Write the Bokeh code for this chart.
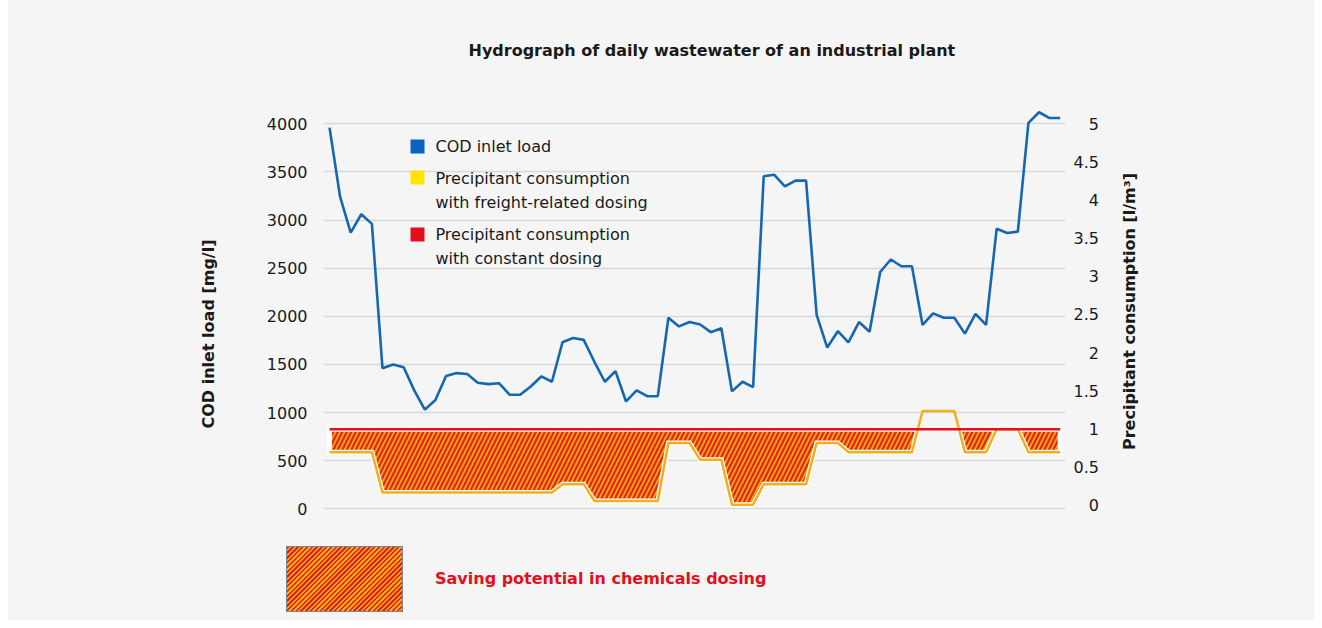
import math
from bokeh.plotting import figure
from bokeh.models import (Range1d, LinearAxis, FixedTicker, Label, BoxAnnotation, Spacer,
                          Title, Div)
from bokeh.layouts import row, column
from bokeh.embed import file_html
from bokeh.resources import INLINE

# ---------------- data ----------------
days = list(range(1, 71))
cod_inlet_load = [3960, 3240, 2870, 3060, 2960, 1460, 1500, 1470, 1230, 1030,
                  1130, 1380, 1410, 1400, 1310, 1295, 1305, 1185, 1185, 1270,
                  1375, 1320, 1730, 1775, 1755, 1530, 1320, 1430, 1115, 1230,
                  1170, 1170, 1985, 1895, 1940, 1915, 1835, 1875, 1220, 1320,
                  1265, 3455, 3470, 3350, 3410, 3410, 2015, 1675, 1845, 1730,
                  1940, 1840, 2460, 2590, 2520, 2520, 1910, 2030, 1985, 1985,
                  1820, 2025, 1910, 2910, 2865, 2880, 4010, 4120, 4060, 4060]
freight_dosing = [0.70, 0.70, 0.70, 0.70, 0.70, 0.17, 0.17, 0.17, 0.17, 0.17,
                  0.17, 0.17, 0.17, 0.17, 0.17, 0.17, 0.17, 0.17, 0.17, 0.17,
                  0.17, 0.17, 0.28, 0.28, 0.28, 0.06, 0.06, 0.06, 0.06, 0.06,
                  0.06, 0.06, 0.82, 0.82, 0.82, 0.60, 0.60, 0.60, 0.01, 0.01,
                  0.01, 0.28, 0.28, 0.28, 0.28, 0.28, 0.82, 0.82, 0.82, 0.70,
                  0.70, 0.70, 0.70, 0.70, 0.70, 0.70, 1.24, 1.24, 1.24, 1.24,
                  0.70, 0.70, 0.70, 1.00, 1.00, 1.00, 0.70, 0.70, 0.70, 0.70]
constant_dosing = [1.0, 1.0, 1.0, 1.0, 1.0, 1.0, 1.0, 1.0, 1.0, 1.0,
                   1.0, 1.0, 1.0, 1.0, 1.0, 1.0, 1.0, 1.0, 1.0, 1.0,
                   1.0, 1.0, 1.0, 1.0, 1.0, 1.0, 1.0, 1.0, 1.0, 1.0,
                   1.0, 1.0, 1.0, 1.0, 1.0, 1.0, 1.0, 1.0, 1.0, 1.0,
                   1.0, 1.0, 1.0, 1.0, 1.0, 1.0, 1.0, 1.0, 1.0, 1.0,
                   1.0, 1.0, 1.0, 1.0, 1.0, 1.0, 1.0, 1.0, 1.0, 1.0,
                   1.0, 1.0, 1.0, 1.0, 1.0, 1.0, 1.0, 1.0, 1.0, 1.0]
left_ticks = [0, 500, 1000, 1500, 2000, 2500, 3000, 3500, 4000]
right_ticks = [0, 0.5, 1, 1.5, 2, 2.5, 3, 3.5, 4, 4.5, 5]
right_tick_labels = ["0", "0.5", "1", "1.5", "2", "2.5", "3", "3.5", "4", "4.5", "5"]

title_text = "Hydrograph of daily wastewater of an industrial plant"
left_label = "COD inlet load [mg/l]"
right_label = "Precipitant consumption [l/m\u00b3]"
legend_cod = "COD inlet load"
legend_freight = ["Precipitant consumption", "with freight-related dosing"]
legend_constant = ["Precipitant consumption", "with constant dosing"]
saving_text = "Saving potential in chemicals dosing"

# ---------------- style / layout (page pixels) ----------------
FONT = "DejaVu Sans"
BG = "#f5f5f5"
BLUE = "#1467b0"
BLUE_SW = "#0a64c8"
YELLOW_LINE = "#f2ae1c"
YELLOW_SW = "#ffe600"
RED = "#e3101c"
HATCH_RED = "#e2231f"
HATCH_ORANGE = "#f7a90a"
TXT = "#1a1a1a"

LEFT_PAD = 8                 # white strip left of the grey panel
P_RIGHT = 1110               # right edge of main figure
PANEL_R = 1314               # right edge of grey panel
H_TOP = 530                  # height of chart row
H_BOT = 90                   # height of the bottom legend strip
FRAME_L, FRAME_R, FRAME_T, FRAME_B = 323, 1065, 100, 520
X_START, X_END = days[0] - 0.57, days[-1] + 0.5
Y_START, Y_END = -121.6, 4242.0
R_START, R_END = -0.197, 5.315


def to_x(px):
    return X_START + (px - FRAME_L) * (X_END - X_START) / (FRAME_R - FRAME_L)


def to_y(py):
    return Y_START + (FRAME_B - py) * (Y_END - Y_START) / (FRAME_B - FRAME_T)


def saving_polygons(xv, top, bot):
    pts = []
    for i in range(len(xv)):
        if i > 0:
            d0 = top[i - 1] - bot[i - 1]
            d1 = top[i] - bot[i]
            if d0 * d1 < 0:
                t = d0 / (d0 - d1)
                xc = xv[i - 1] + t * (xv[i] - xv[i - 1])
                yc = top[i - 1] + t * (top[i] - top[i - 1])
                pts.append((xc, yc, yc))
        pts.append((xv[i], top[i], bot[i]))
    polys, run, prev = [], [], None
    for q in pts:
        d = q[1] - q[2]
        if d > 1e-9:
            if not run and prev is not None:
                run.append(prev)
            run.append(q)
        else:
            if run:
                run.append(q)
                polys.append(run)
                run = []
        prev = q
    if run:
        polys.append(run)
    xs = [[q[0] for q in r] + [q[0] for q in reversed(r)] for r in polys]
    ys = [[q[1] for q in r] + [q[2] for q in reversed(r)] for r in polys]
    return xs, ys


W_MAIN = P_RIGHT - LEFT_PAD
p = figure(width=W_MAIN, height=H_TOP,
           x_range=Range1d(X_START, X_END), y_range=Range1d(Y_START, Y_END),
           x_axis_location=None, y_axis_location="left",
           output_backend="svg", toolbar_location=None,
           min_border_left=FRAME_L - LEFT_PAD, min_border_right=P_RIGHT - FRAME_R,
           min_border_top=FRAME_T, min_border_bottom=H_TOP - FRAME_B,
           background_fill_color=BG, border_fill_color=BG, outline_line_color=None)

p.title.text = title_text
p.title.text_font = FONT
p.title.text_font_size = "16px"
p.title.text_font_style = "bold"
p.title.text_color = TXT
p.title.align = "left"
p.title.offset = 145
p.title.standoff = 78
p.title.vertical_align = "top"

p.xgrid.visible = False
p.ygrid.grid_line_color = "#d9d9d9"
p.ygrid.grid_line_width = 1.5

p.extra_y_ranges = {"right": Range1d(R_START, R_END)}

ly = p.yaxis[0]
ly.ticker = FixedTicker(ticks=left_ticks)

ry = LinearAxis(y_range_name="right", ticker=FixedTicker(ticks=right_ticks))
pad = {}
for t, s in zip(right_ticks, right_tick_labels):
    pad[float(t)] = s if "." in s else "\u2007\u2008" + s
ry.major_label_overrides = pad
p.add_layout(ry, "right")

for ax, stand in [(ly, 16), (ry, 8)]:
    ax.axis_line_color = None
    ax.major_tick_line_color = None
    ax.minor_tick_line_color = None
    ax.major_tick_out = 0
    ax.major_tick_in = 0
    ax.minor_tick_out = 0
    ax.major_label_standoff = stand
    ax.major_label_text_font = FONT
    ax.major_label_text_font_size = "16px"
    ax.major_label_text_color = TXT

# left axis title (side panel title, reads bottom-to-top)
p.add_layout(Title(text=left_label, align="left", offset=FRAME_B - 428, standoff=92,
                   text_font=FONT, text_font_size="16px", text_font_style="bold",
                   text_color=TXT), "left")

# saving potential (hatched area between constant and freight-related dosing)
HATCH = dict(fill_color=HATCH_RED, fill_alpha=1, hatch_pattern="/", hatch_color=HATCH_ORANGE,
             hatch_scale=9, hatch_weight=1.8)
hx, hy = saving_polygons(days, constant_dosing, freight_dosing)
p.patches(hx, hy, y_range_name="right", line_color="white", line_width=5,
          line_join="miter", **HATCH)

p.line(days, freight_dosing, y_range_name="right", line_color=YELLOW_LINE, line_width=2.5)
p.line(days, constant_dosing, y_range_name="right", line_color=RED, line_width=2.5)
p.line(days, cod_inlet_load, line_color=BLUE, line_width=2.6)

# legend (inside plot, top-left)
for (top, bot, col) in [(139, 153, BLUE_SW), (170, 184, YELLOW_SW), (227, 241, RED)]:
    p.add_layout(BoxAnnotation(left=to_x(410), right=to_x(424), top=to_y(top), bottom=to_y(bot),
                               fill_color=col, fill_alpha=1, line_color=None))
for (py, txt) in [(146, legend_cod), (178, legend_freight[0]), (202, legend_freight[1]),
                  (234, legend_constant[0]), (258, legend_constant[1])]:
    p.add_layout(Label(x=to_x(435), y=to_y(py), text=txt, text_font=FONT, text_font_size="16px",
                       text_color=TXT, text_baseline="middle", text_align="left"))

# right axis title in a narrow companion figure (reads bottom-to-top)
W_R = PANEL_R - P_RIGHT
pr = figure(width=W_R, height=H_TOP, x_range=Range1d(0, W_R), y_range=Range1d(0, FRAME_B - FRAME_T),
            x_axis_location=None, y_axis_location=None,
            output_backend="svg", toolbar_location=None,
            min_border_left=0, min_border_right=0,
            min_border_top=FRAME_T, min_border_bottom=H_TOP - FRAME_B,
            background_fill_color=BG, border_fill_color=BG, outline_line_color=None)
pr.xgrid.visible = False
pr.ygrid.visible = False
pr.add_layout(Label(x=1129 - P_RIGHT, y=FRAME_B - 311, text=right_label, angle=math.pi / 2,
                    text_font=FONT, text_font_size="16px", text_font_style="bold",
                    text_color=TXT, text_align="center", text_baseline="middle"))

# bottom legend strip for the hatched saving potential
W_STRIP = PANEL_R - LEFT_PAD
box_l, box_t, box_w, box_h = 286 - LEFT_PAD, 546 - H_TOP, 119, 68
txt_l, txt_c = 435 - LEFT_PAD, 579 - H_TOP
stripes = ("repeating-linear-gradient(135deg, {r} 0px, {r} 1.7px, {o} 1.7px, {o} 3.4px)"
           .format(r=HATCH_RED, o=HATCH_ORANGE))
html = (
    f'<div style="position:relative;width:{W_STRIP}px;height:{H_BOT}px;background:{BG};'
    f'font-family:\'{FONT}\';margin:0;padding:0;">'
    f'<div style="position:absolute;left:{box_l}px;top:{box_t}px;width:{box_w - 2}px;height:{box_h - 2}px;'
    f'border:1px solid #7b86a5;background:{stripes};"></div>'
    f'<div style="position:absolute;left:{txt_l}px;top:{txt_c}px;transform:translateY(-50%);'
    f'color:{RED};font-weight:bold;font-size:16px;line-height:20px;white-space:nowrap;">{saving_text}</div>'
    f'</div>'
)
strip = Div(text=html, width=W_STRIP, height=H_BOT, margin=0,
            styles={"padding": "0", "margin": "0", "background-color": BG})

panel = column(row(p, pr, styles={"background-color": BG}), strip,
               styles={"background-color": BG})
layout = row(Spacer(width=LEFT_PAD, height=H_TOP + H_BOT), panel)
open("out.html", "w").write(file_html(layout, INLINE))
